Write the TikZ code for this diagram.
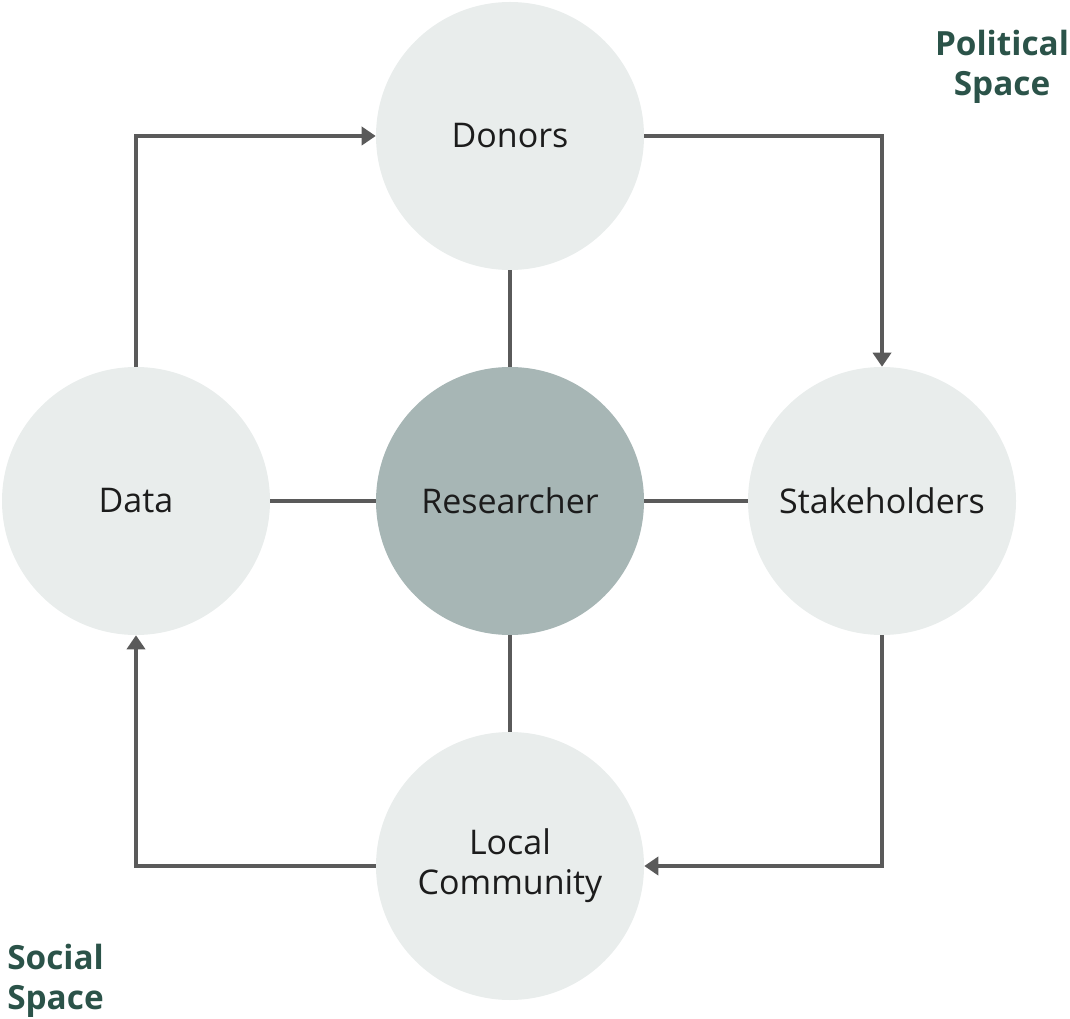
\documentclass[tikz,border=0pt]{standalone}
\usepackage{fontspec}
\setmainfont{Open Sans}
\usetikzlibrary{arrows.meta}
\definecolor{circlight}{HTML}{E9EDEC}
\definecolor{circdark}{HTML}{A7B6B5}
\definecolor{linegray}{HTML}{5A5A5A}
\definecolor{spacegreen}{HTML}{2B5349}
\definecolor{txt}{HTML}{1C1C1C}
\begin{document}
\begin{tikzpicture}[x=0.75pt,y=-0.75pt,
  bubble/.style={circle,fill=circlight,minimum size=201pt,inner sep=0pt,text=txt,font=\fontsize{25.5}{30}\selectfont,align=center},
  centre/.style={bubble,fill=circdark},
  link/.style={draw=linegray,line width=3.5pt},
  flow/.style={link,-{Triangle[length=10.5pt,width=13.5pt]}},
  spacelabel/.style={text=spacegreen,font=\bfseries\fontsize{25}{30}\selectfont,inner sep=0pt}
]
\useasboundingbox (0,0) rectangle (1070,1019);
\node[bubble] (donors) at (510,136) {Donors};
\node[bubble] (data) at (136,501) {Data};
\node[centre] (res) at (510,501) {Researcher};
\node[bubble] (stake) at (882,501) {Stakeholders};
\node[bubble] (local) at (510,866) {Local\\Community};

\draw[link] (donors) -- (res);
\draw[link] (data) -- (res);
\draw[link] (res) -- (stake);
\draw[link] (res) -- (local);

\draw[flow] (data.north) |- (donors.west);
\draw[flow] (donors.east) -| (stake.north);
\draw[flow] (stake.south) |- (local.east);
\draw[flow] (local.west) -| (data.south);

\node[spacelabel,align=center] (pol) at (1002,67) {Political\\Space};
\node[spacelabel,align=left,anchor=west] (soc) at (7,981) {Social\\Space};
\end{tikzpicture}
\end{document}
